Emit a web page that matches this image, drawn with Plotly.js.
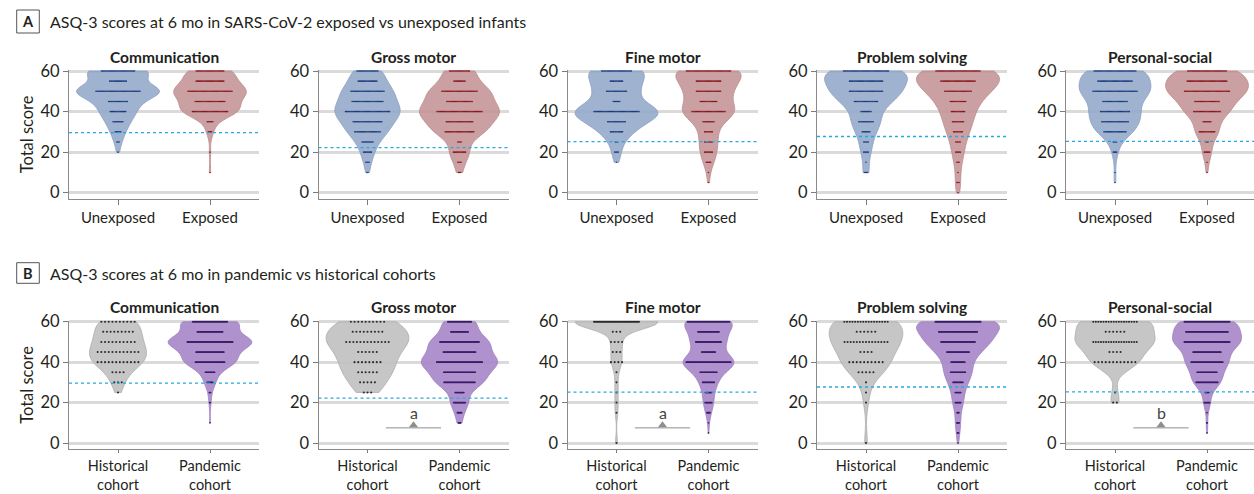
<!DOCTYPE html>
<html><head><meta charset="utf-8">
<script src="https://cdn.plot.ly/plotly-3.0.1.min.js"></script>
<style>html,body{margin:0;padding:0;background:#fff}#chart{width:1254px;height:494px}</style>
</head><body><div id="chart"></div>
<script>
// ---------------- DATA ----------------
const scoreLevels = [60, 55, 50, 45, 40, 35, 30, 25, 20, 15, 10, 5, 0];
const domains = ['Communication', 'Gross motor', 'Fine motor', 'Problem solving', 'Personal-social'];
const cutoffs = [29.65, 22.25, 25.14, 27.72, 25.34];
const rowATitle = 'ASQ-3 scores at 6 mo in SARS-CoV-2 exposed vs unexposed infants';
const rowBTitle = 'ASQ-3 scores at 6 mo in pandemic vs historical cohorts';
const rowACategories = ['Unexposed', 'Exposed'];
const rowBCategories = ['Historical<br>cohort', 'Pandemic<br>cohort'];
const sigLabels = ['', 'a', 'a', '', 'b'];
const yTitle = 'Total score';
const yTicks = [0, 20, 40, 60];

// number of infants at each score level (60 down to 0), one row per domain
const unexposedCounts = [
  [31, 16, 41, 18, 15, 10, 6, 3, 1, 0, 0, 0, 0],
  [20, 18, 31, 29, 41, 27, 24, 11, 8, 4, 2, 0, 0],
  [28, 12, 19, 7, 42, 17, 12, 3, 4, 1, 0, 0, 0],
  [42, 31, 31, 22, 10, 14, 8, 5, 5, 1, 4, 0, 0],
  [39, 32, 41, 23, 27, 25, 21, 4, 4, 0, 1, 1, 0]
];
const exposedCounts = [
  [26, 26, 41, 28, 33, 6, 4, 0, 1, 0, 1, 0, 0],
  [19, 11, 33, 24, 42, 25, 27, 4, 12, 4, 3, 0, 0],
  [41, 23, 23, 16, 31, 11, 8, 8, 8, 5, 1, 1, 0],
  [41, 32, 25, 15, 13, 11, 9, 5, 5, 3, 1, 3, 1],
  [36, 37, 42, 23, 25, 8, 15, 3, 6, 1, 1, 0, 0]
];
const historicalCounts = [
  [10, 9, 10, 12, 12, 4, 3, 1, 0, 0, 0, 0, 0],
  [10, 9, 13, 6, 8, 6, 5, 3, 0, 0, 0, 0, 0],
  [42, 3, 4, 3, 4, 1, 1, 1, 1, 1, 0, 0, 1],
  [17, 6, 15, 4, 10, 5, 1, 1, 1, 0, 0, 0, 1],
  [18, 6, 18, 4, 12, 0, 0, 1, 2, 0, 0, 0, 0]
];
const pandemicCounts = [
  [57, 42, 82, 46, 48, 16, 10, 3, 2, 0, 1, 0, 0],
  [39, 29, 64, 53, 83, 52, 51, 15, 20, 8, 5, 0, 0],
  [69, 35, 42, 23, 73, 28, 20, 11, 12, 6, 1, 1, 0],
  [83, 63, 56, 37, 23, 25, 17, 10, 10, 4, 5, 3, 1],
  [75, 69, 83, 46, 52, 33, 36, 7, 10, 1, 2, 1, 0]
];

// ---------------- STYLE ----------------
const FONT = 'Lato, "Liberation Sans", sans-serif';
const TXT = '#231f20';
const W = 1254, H = 494;
const panelLeft = [69, 318.5, 567.5, 817, 1066];
const panelWidth = 190;
const pxPerUnitX = 92, catOffsetPx = 49;
const rowPx = [{top: 69.8, bottom: 199.0}, {top: 320.5, bottom: 449.3}];
const yRange = [-3.1, 60.6];
const groupStyle = {
  unexposed: {fill: 'rgba(146,167,200,0.88)', line: '#8aa0c2', dot: '#1d3c7c', spacingPx: 1.1, size: 1.6},
  exposed: {fill: 'rgba(196,147,150,0.88)', line: '#bd8b8e', dot: '#8a1820', spacingPx: 1.1, size: 1.6},
  historical: {fill: 'rgba(192,192,192,0.9)', line: '#adadad', dot: '#2b2b2b', spacingPx: 3.7, size: 2.1},
  pandemic: {fill: 'rgba(166,134,200,0.9)', line: '#9e82bf', dot: '#3b1d6b', spacingPx: 0.62, size: 1.7}
};
const violinWidths = {
  unexposed: [0.90, 0.71, 0.90, 0.90, 0.78],
  exposed: [0.79, 0.87, 0.71, 0.90, 0.90],
  historical: [0.62, 0.90, 0.90, 0.80, 0.87],
  pandemic: [0.91, 0.83, 0.55, 0.90, 0.75]
};

// ---------------- BUILD ----------------
function expand(counts) {
  const out = [];
  counts.forEach((n, i) => { for (let k = 0; k < n; k++) out.push(scoreLevels[i]); });
  return out;
}
function dotStrip(counts, center, spacingPx) {
  const xs = [], ys = [];
  counts.forEach((n, i) => {
    const sp = Math.min(spacingPx, 46 / Math.max(n, 1)) / pxPerUnitX;
    for (let k = 0; k < n; k++) { xs.push(center + (k - (n - 1) / 2) * sp); ys.push(scoreLevels[i]); }
  });
  return {xs, ys};
}

const traces = [];
const layout = {
  width: W, height: H, margin: {l: 0, r: 0, t: 0, b: 0},
  paper_bgcolor: '#fff', plot_bgcolor: 'rgba(0,0,0,0)',
  showlegend: false, font: {family: FONT, color: TXT, size: 14},
  shapes: [], annotations: [], violinmode: 'overlay'
};

const rows = [
  {groups: ['unexposed', 'exposed'], data: [unexposedCounts, exposedCounts], cats: rowACategories},
  {groups: ['historical', 'pandemic'], data: [historicalCounts, pandemicCounts], cats: rowBCategories}
];

rows.forEach((row, r) => {
  for (let c = 0; c < 5; c++) {
    const p = r * 5 + c + 1;
    const xa = p === 1 ? 'x' : 'x' + p, ya = p === 1 ? 'y' : 'y' + p;
    const xKey = p === 1 ? 'xaxis' : 'xaxis' + p, yKey = p === 1 ? 'yaxis' : 'yaxis' + p;
    const left = panelLeft[c];
    const right = Math.min(left + panelWidth, W);
    const wpx = right - left;
    layout[xKey] = {
      domain: [left / W, right / W], anchor: ya, type: 'linear',
      range: [-catOffsetPx / pxPerUnitX, (wpx - catOffsetPx) / pxPerUnitX],
      tickvals: [0, 1], ticktext: row.cats, ticks: 'outside', ticklen: r === 0 ? 5 : 3, tickcolor: '#7a7a7a',
      showline: true, linecolor: '#8a8a8a', linewidth: 1, showgrid: false, zeroline: false,
      tickfont: {family: FONT, size: r === 0 ? 15 : 14.5, color: TXT}, fixedrange: true
    };
    layout[yKey] = {
      domain: [1 - rowPx[r].bottom / H, 1 - rowPx[r].top / H], anchor: xa,
      range: yRange, tickvals: yTicks, ticks: 'outside', ticklen: 5, tickcolor: '#7a7a7a',
      showline: true, linecolor: '#8a8a8a', linewidth: 1,
      showgrid: true, gridcolor: '#dadada', gridwidth: 3, zeroline: false,
      tickfont: {family: FONT, size: 16.5, color: TXT}, fixedrange: true
    };
    if (c === 0) {
      layout[yKey].title = {text: yTitle, font: {family: FONT, size: 16.5, color: TXT}, standoff: 2};
    }
    // violins + dots
    row.groups.forEach((g, gi) => {
      const st = groupStyle[g];
      const counts = row.data[gi][c];
      traces.push({
        type: 'violin', x0: gi, y: expand(counts), xaxis: xa, yaxis: ya,
        width: violinWidths[g][c], scalemode: 'width', spanmode: 'hard',
        fillcolor: st.fill, line: {color: st.line, width: 0.8},
        points: false, box: {visible: false}, meanline: {visible: false},
        hoverinfo: 'skip', name: g
      });
      const d = dotStrip(counts, gi, st.spacingPx);
      traces.push({
        type: 'scatter', mode: 'markers', x: d.xs, y: d.ys, xaxis: xa, yaxis: ya,
        marker: {size: st.size, color: st.dot, symbol: 'circle', line: {width: 0}},
        hoverinfo: 'skip'
      });
    });
    // cutoff line
    layout.shapes.push({type: 'line', xref: xa + ' domain', yref: ya, x0: 0, x1: 1,
      y0: cutoffs[c], y1: cutoffs[c], line: {color: '#27a8e0', width: 1.3, dash: 'dot'}});
    // panel title
    layout.annotations.push({text: '<b>' + domains[c] + '</b>', xref: xa + ' domain', x: 0.5,
      yref: 'paper', y: 1 - (r === 0 ? 57 : 306.5) / H, showarrow: false,
      xanchor: 'center', yanchor: 'middle', font: {family: FONT, size: 15.5, color: TXT}});
    // significance marker
    if (r === 1 && sigLabels[c]) {
      layout.shapes.push({type: 'line', xref: xa, yref: ya, x0: 0.2, x1: 0.8, y0: 7.5, y1: 7.5,
        line: {color: '#8f8f8f', width: 1}});
      traces.push({type: 'scatter', mode: 'markers', x: [0.5], y: [8.8], xaxis: xa, yaxis: ya,
        marker: {symbol: 'triangle-up', size: 8, color: '#8f8f8f'}, hoverinfo: 'skip'});
      layout.annotations.push({text: sigLabels[c], xref: xa, yref: ya, x: 0.5, y: 15.3,
        showarrow: false, font: {family: FONT, size: 16, color: '#444'}});
    }
  }
});

// panel letter boxes and row titles
[[rowATitle, 'A', 10, 33], [rowBTitle, 'B', 262.7, 283.3]].forEach(([t, letter, top, bot]) => {
  layout.shapes.push({type: 'rect', xref: 'paper', yref: 'paper', x0: 16.7 / W, x1: 39.3 / W,
    y0: 1 - bot / H, y1: 1 - top / H, line: {color: '#555', width: 1}});
  layout.annotations.push({text: '<b>' + letter + '</b>', xref: 'paper', yref: 'paper',
    x: 28 / W, y: 1 - (top + bot) / 2 / H, showarrow: false, xanchor: 'center', yanchor: 'middle',
    font: {family: FONT, size: 14.5, color: TXT}});
  layout.annotations.push({text: t, xref: 'paper', yref: 'paper', x: 48 / W,
    y: 1 - (top + bot) / 2 / H, showarrow: false, xanchor: 'left', yanchor: 'middle',
    font: {family: FONT, size: 16, color: TXT}});
});

Plotly.newPlot('chart', traces, layout, {staticPlot: true, displayModeBar: false});
</script></body></html>
